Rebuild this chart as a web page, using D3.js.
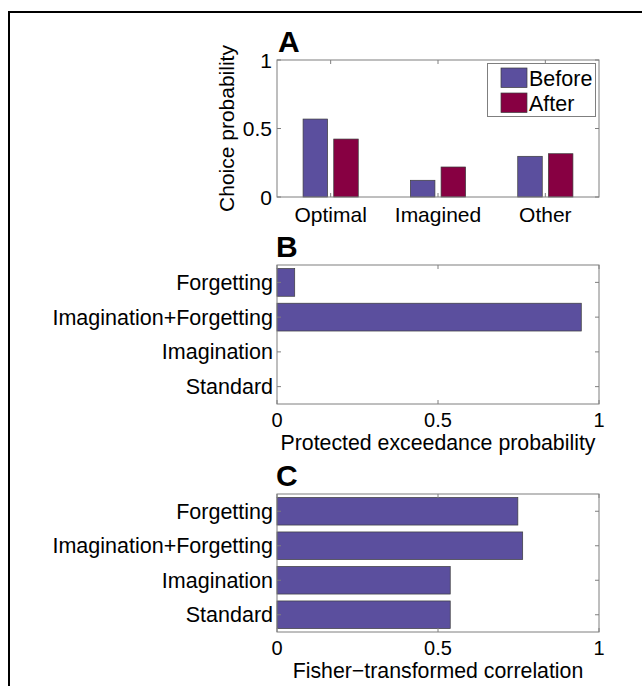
<!DOCTYPE html>
<html>
<head>
<meta charset="utf-8">
<script src="https://cdn.jsdelivr.net/npm/d3@7"></script>
<style>
  html, body { margin: 0; padding: 0; background: #fff; }
  svg { display: block; }
  text { font-family: "Liberation Sans", Arial, Helvetica, sans-serif; fill: #000; }
</style>
</head>
<body>
<svg id="fig" width="642" height="686"></svg>
<script>
// Panel A: choice probability before / after
const choiceCategories = ["Optimal", "Imagined", "Other"];
const choiceSeries = ["Before", "After"];
const choiceBefore = [0.569, 0.122, 0.297];
const choiceAfter = [0.423, 0.219, 0.316];
const choiceTicks = [0, 0.5, 1];
const choiceTickLabels = ["0", "0.5", "1"];

// Panels B and C: model comparison
const models = ["Forgetting", "Imagination+Forgetting", "Imagination", "Standard"];
const exceedance = [0.055, 0.945, 0, 0];
const fisherCorr = [0.748, 0.763, 0.538, 0.538];
const xTicks = [0, 0.5, 1];
const xTickLabels = ["0", "0.5", "1"];

const colors = { Before: "#5b4f9e", After: "#870042" };
const axisColor = "#7f7f7f";
const fontSize = 21;

const svg = d3.select("#fig");

// outer frame
svg.append("path")
  .attr("d", "M9,686 V12 H642")
  .attr("fill", "none")
  .attr("stroke", "#000")
  .attr("stroke-width", 2);

const plotLeft = 277, plotRight = 599;

function box(g, x0, x1, y0, y1) {
  g.append("rect")
    .attr("x", x0).attr("y", y0)
    .attr("width", x1 - x0).attr("height", y1 - y0)
    .attr("fill", "none")
    .attr("stroke", axisColor)
    .attr("stroke-width", 1);
}

function panelLetter(letter, x, y) {
  svg.append("text")
    .attr("x", x).attr("y", y)
    .attr("font-size", 30)
    .attr("font-weight", "bold")
    .text(letter);
}

// ---------- Panel A ----------
{
  const top = 60, bottom = 197;
  const g = svg.append("g");
  const x = d3.scaleBand().domain(choiceCategories).range([plotLeft, plotRight]).padding(0);
  const groupW = x.bandwidth() * (2 / 3.5);
  const xs = d3.scaleBand().domain(choiceSeries)
    .range([(x.bandwidth() - groupW) / 2, (x.bandwidth() + groupW) / 2])
    .paddingInner(0.2).paddingOuter(0.1);
  const y = d3.scaleLinear().domain([0, 1]).range([bottom, top]);

  const rows = choiceCategories.map((c, i) => ({ cat: c, Before: choiceBefore[i], After: choiceAfter[i] }));

  rows.forEach(r => {
    choiceSeries.forEach(s => {
      g.append("rect")
        .attr("x", x(r.cat) + xs(s))
        .attr("y", y(r[s]))
        .attr("width", xs.bandwidth())
        .attr("height", y(0) - y(r[s]))
        .attr("fill", colors[s])
        .attr("stroke", "#3c3c3c")
        .attr("stroke-width", 0.7);
    });
  });

  box(g, plotLeft, plotRight, top, bottom);

  // inward ticks on all four sides
  const tl = 4;
  choiceCategories.forEach(c => {
    const cx = x(c) + x.bandwidth() / 2;
    g.append("line").attr("x1", cx).attr("x2", cx).attr("y1", bottom).attr("y2", bottom - tl).attr("stroke", axisColor);
    g.append("line").attr("x1", cx).attr("x2", cx).attr("y1", top).attr("y2", top + tl).attr("stroke", axisColor);
    g.append("text").attr("x", cx).attr("y", bottom + 24.5)
      .attr("text-anchor", "middle").attr("font-size", fontSize).text(c);
  });
  choiceTicks.forEach((t, i) => {
    const ty = y(t);
    g.append("line").attr("x1", plotLeft).attr("x2", plotLeft + tl).attr("y1", ty).attr("y2", ty).attr("stroke", axisColor);
    g.append("line").attr("x1", plotRight).attr("x2", plotRight - tl).attr("y1", ty).attr("y2", ty).attr("stroke", axisColor);
    g.append("text").attr("x", plotLeft - 5).attr("y", ty + 7.5)
      .attr("text-anchor", "end").attr("font-size", fontSize).text(choiceTickLabels[i]);
  });

  g.append("text")
    .attr("transform", `translate(234,${(top + bottom) / 2}) rotate(-90)`)
    .attr("text-anchor", "middle").attr("font-size", fontSize)
    .text("Choice probability");

  // legend
  const lg = g.append("g");
  lg.append("rect").attr("x", 487.5).attr("y", 63.5).attr("width", 108).attr("height", 53)
    .attr("fill", "#fff").attr("stroke", axisColor);
  choiceSeries.forEach((s, i) => {
    const sy = 68 + i * 25;
    lg.append("rect").attr("x", 501).attr("y", sy).attr("width", 26).attr("height", 19.5)
      .attr("fill", colors[s]).attr("stroke", "#3c3c3c").attr("stroke-width", 0.7);
    lg.append("text").attr("x", 529).attr("y", sy + 17.5).attr("font-size", fontSize + 0.5).text(s);
  });

  panelLetter("A", 278, 52);
}

// ---------- Panels B and C ----------
function hbarPanel(values, top, bottom, xlabel, letter) {
  const g = svg.append("g");
  const x = d3.scaleLinear().domain([0, 1]).range([plotLeft, plotRight]);
  const y = d3.scaleBand().domain(models).range([top, bottom]).paddingInner(0.2).paddingOuter(0.1);

  models.forEach((m, i) => {
    if (values[i] <= 0) return;
    g.append("rect")
      .attr("x", x(0))
      .attr("y", y(m))
      .attr("width", x(values[i]) - x(0))
      .attr("height", y.bandwidth())
      .attr("fill", colors.Before)
      .attr("stroke", "#3c3c3c")
      .attr("stroke-width", 0.7);
  });

  box(g, plotLeft, plotRight, top, bottom);

  const tl = 4;
  models.forEach(m => {
    const cy = y(m) + y.bandwidth() / 2;
    g.append("line").attr("x1", plotLeft).attr("x2", plotLeft + tl).attr("y1", cy).attr("y2", cy).attr("stroke", axisColor);
    g.append("line").attr("x1", plotRight).attr("x2", plotRight - tl).attr("y1", cy).attr("y2", cy).attr("stroke", axisColor);
    g.append("text").attr("x", plotLeft - 4).attr("y", cy + 7.5)
      .attr("text-anchor", "end").attr("font-size", fontSize + 0.5).text(m);
  });
  xTicks.forEach((t, i) => {
    const tx = x(t);
    g.append("line").attr("x1", tx).attr("x2", tx).attr("y1", bottom).attr("y2", bottom - tl).attr("stroke", axisColor);
    g.append("line").attr("x1", tx).attr("x2", tx).attr("y1", top).attr("y2", top + tl).attr("stroke", axisColor);
    g.append("text").attr("x", tx).attr("y", bottom + 22.5)
      .attr("text-anchor", "middle").attr("font-size", fontSize - 1).text(xTickLabels[i]);
  });

  g.append("text").attr("x", (plotLeft + plotRight) / 2).attr("y", bottom + 45.5)
    .attr("text-anchor", "middle").attr("font-size", fontSize + 0.3).text(xlabel);

  panelLetter(letter, 276, top - 8);
}

hbarPanel(exceedance, 265, 404, "Protected exceedance probability", "B");
hbarPanel(fisherCorr, 494, 632, "Fisher\u2212transformed correlation", "C");
</script>
</body>
</html>
